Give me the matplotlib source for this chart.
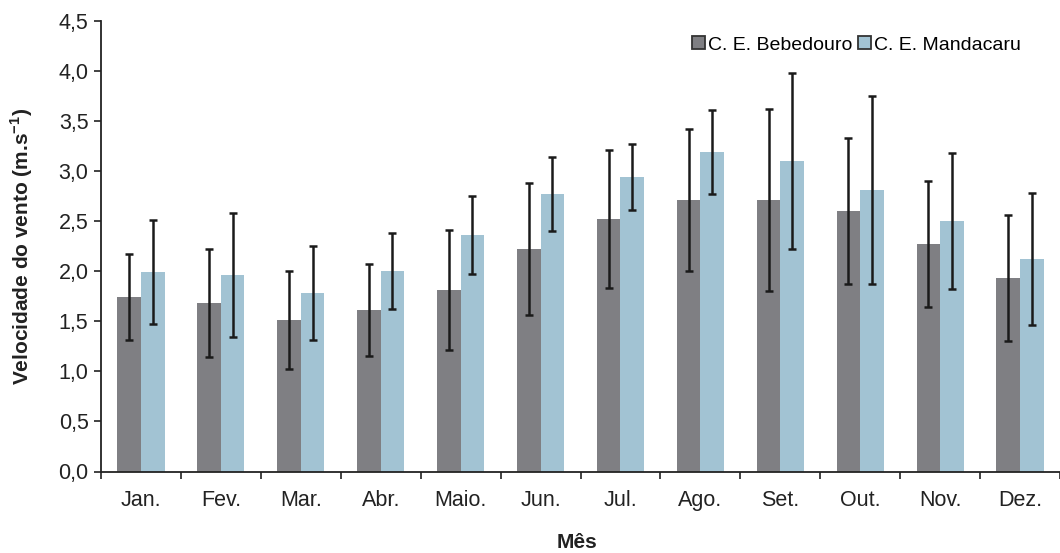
import numpy as np
import matplotlib.pyplot as plt
from matplotlib.ticker import FuncFormatter, FixedLocator
from matplotlib.patches import Patch

plt.rcParams['font.family'] = ['Liberation Sans', 'DejaVu Sans']
plt.rcParams['mathtext.fontset'] = 'custom'
plt.rcParams['mathtext.bf'] = 'Liberation Sans:bold'
plt.rcParams['mathtext.rm'] = 'Liberation Sans'

meses = ['Jan.', 'Fev.', 'Mar.', 'Abr.', 'Maio.', 'Jun.', 'Jul.', 'Ago.',
         'Set.', 'Out.', 'Nov.', 'Dez.']
bebedouro = [1.74, 1.68, 1.51, 1.61, 1.81, 2.22, 2.52, 2.71, 2.71, 2.60, 2.27, 1.93]
bebedouro_dp = [0.43, 0.54, 0.49, 0.46, 0.60, 0.66, 0.69, 0.71, 0.91, 0.73, 0.63, 0.63]
mandacaru = [1.99, 1.96, 1.78, 2.00, 2.36, 2.77, 2.94, 3.19, 3.10, 2.81, 2.50, 2.12]
mandacaru_dp = [0.52, 0.62, 0.47, 0.38, 0.39, 0.37, 0.33, 0.42, 0.88, 0.94, 0.68, 0.66]

cor_beb = '#7f7f83'
cor_man = '#a2c3d3'
cor_txt = '#222222'

fig = plt.figure(figsize=(10.6, 5.53), dpi=100)
ax = fig.add_axes([101 / 1060, (553 - 471.5) / 553, 959 / 1060, 450.5 / 553])

x = np.arange(len(meses))
w = 0.295
err_kw = dict(ecolor='#1a1a1a', elinewidth=1.8, capsize=2.6, capthick=1.8)
ax.bar(x - w / 2, bebedouro, w, color=cor_beb, yerr=bebedouro_dp, error_kw=err_kw)
ax.bar(x + w / 2, mandacaru, w, color=cor_man, yerr=mandacaru_dp, error_kw=err_kw)

ax.set_xlim(-0.5, len(meses) - 0.5)
ax.set_ylim(0, 4.5)
ax.set_yticks(np.arange(0, 4.51, 0.5))
ax.yaxis.set_major_formatter(FuncFormatter(lambda v, p: ('%.1f' % v).replace('.', ',')))

# month labels centred, tick marks at the boundaries between months
ax.xaxis.set_major_locator(FixedLocator(np.arange(-0.5, len(meses), 1.0)))
ax.set_xticklabels([])
ax.xaxis.set_minor_locator(FixedLocator(x))
ax.set_xticklabels(meses, minor=True)
ax.tick_params(axis='x', which='minor', length=0, pad=13, labelsize=15.5, colors=cor_txt)
ax.tick_params(axis='x', which='major', length=5, width=1.2, direction='out', colors=cor_txt)
ax.tick_params(axis='y', length=5, width=1.2, direction='out', labelsize=15.5,
               colors=cor_txt, pad=4)

for s in ['top', 'right']:
    ax.spines[s].set_visible(False)
for s in ['left', 'bottom']:
    ax.spines[s].set_linewidth(1.3)
    ax.spines[s].set_color(cor_txt)

ax.set_ylabel('Velocidade do vento (m.s$^{\\mathbf{-1}}$)', fontsize=15,
              fontweight='bold', color=cor_txt, labelpad=17)
fig.text(577 / 1060, 1 - 543 / 553, 'Mês', fontsize=15, fontweight='bold',
         color=cor_txt, ha='center', va='center')

handles = [Patch(facecolor=cor_beb, edgecolor='#333333', linewidth=1.3),
           Patch(facecolor=cor_man, edgecolor='#333333', linewidth=1.3)]
ax.legend(handles, ['C. E. Bebedouro', 'C. E. Mandacaru'], ncol=2, frameon=False,
          loc='upper right', bbox_to_anchor=(0.977, 1.005), fontsize=14,
          handlelength=0.65, handleheight=0.65, handletextpad=0.15,
          columnspacing=0.3)

plt.savefig('out.png', dpi=100)
plt.close()
